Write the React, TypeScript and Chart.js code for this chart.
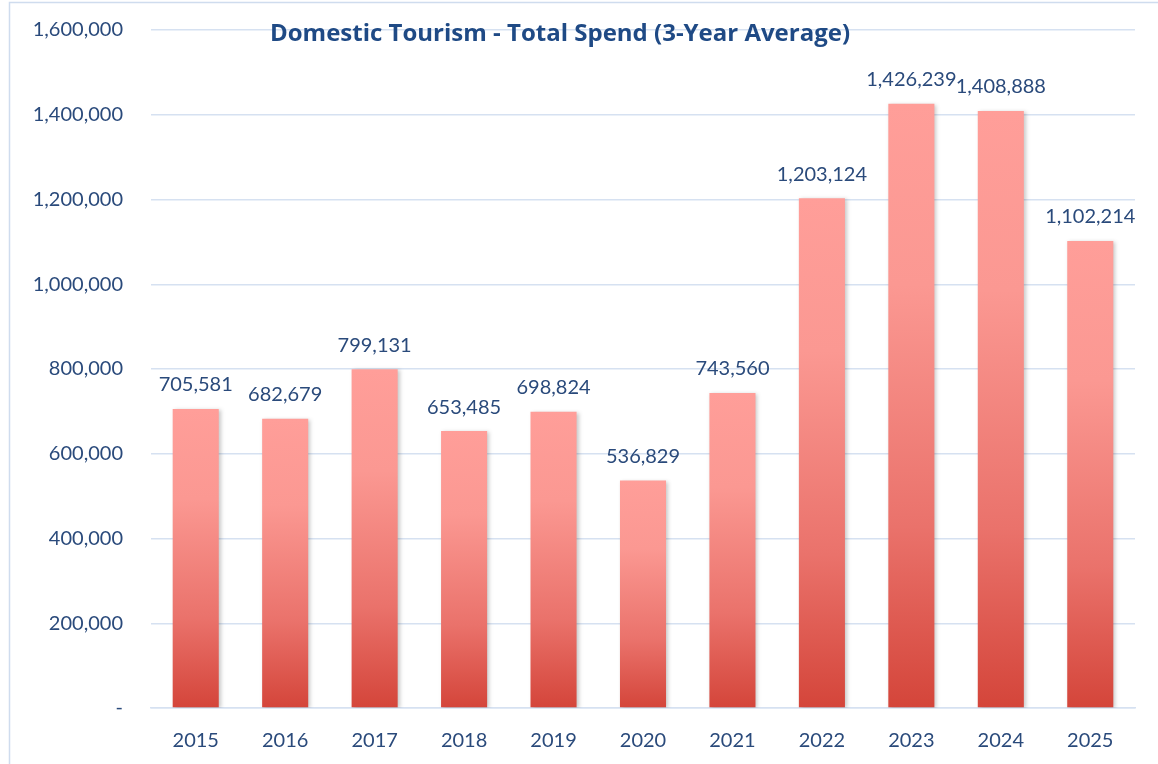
import React, { useEffect, useRef } from "react";
import { Chart, registerables } from "chart.js";

Chart.register(...registerables);

const years = ["2015", "2016", "2017", "2018", "2019", "2020", "2021", "2022", "2023", "2024", "2025"];
const spend = [705581, 682679, 799131, 653485, 698824, 536829, 743560, 1203124, 1426239, 1408888, 1102214];
const titleText = "Domestic Tourism - Total Spend (3-Year Average)";

const FONT = "Lato, 'Open Sans', sans-serif";
const TITLE_FONT = "'Open Sans', Lato, sans-serif";
const TEXT = "#2A4A7B";

export default function App() {
  const ref = useRef<HTMLCanvasElement | null>(null);

  useEffect(() => {
    const canvas = ref.current;
    if (!canvas) return;

    const fmt = (v: number) => v.toLocaleString("en-US");

    const bgPlugin = {
      id: "bgBorder",
      beforeDraw(chart: any) {
        const { ctx } = chart;
        ctx.save();
        ctx.fillStyle = "#ffffff";
        ctx.fillRect(0, 0, chart.width, chart.height);
        ctx.strokeStyle = "#CFDCEE";
        ctx.lineWidth = 1.5;
        ctx.strokeRect(9.5, 2.5, chart.width + 20, chart.height + 20);
        ctx.restore();
      },
    };

    const shadowPlugin = {
      id: "barShadow",
      beforeDatasetsDraw(chart: any) {
        const { ctx } = chart;
        ctx.save();
        ctx.shadowColor = "rgba(0,0,0,0.22)";
        ctx.shadowBlur = 4;
        ctx.shadowOffsetX = 2;
        ctx.shadowOffsetY = 1;
      },
      afterDatasetsDraw(chart: any) {
        chart.ctx.restore();
      },
    };

    const labelPlugin = {
      id: "valueLabels",
      afterDatasetsDraw(chart: any) {
        const { ctx } = chart;
        const meta = chart.getDatasetMeta(0);
        ctx.save();
        ctx.font = `20px ${FONT}`;
        ctx.fillStyle = TEXT;
        ctx.textAlign = "center";
        ctx.textBaseline = "middle";
        meta.data.forEach((bar: any, i: number) => {
          ctx.fillText(fmt(spend[i]), bar.x, bar.y - 24);
        });
        ctx.restore();
      },
    };

    const titlePlugin = {
      id: "innerTitle",
      afterDraw(chart: any) {
        const { ctx } = chart;
        ctx.save();
        ctx.font = `bold 24px ${TITLE_FONT}`;
        ctx.fillStyle = "#1F4A85";
        ctx.textAlign = "center";
        ctx.textBaseline = "middle";
        ctx.fillText(titleText, 560, 34);
        ctx.restore();
      },
    };

    const chart = new Chart(canvas, {
      type: "bar",
      data: {
        labels: years,
        datasets: [
          {
            data: spend,
            backgroundColor: (c: any) => {
              const ch = c.chart;
              const y = ch.scales?.y;
              if (!ch.chartArea || !y || c.raw == null) return "#F08A84";
              const top = y.getPixelForValue(c.raw as number);
              const bottom = y.getPixelForValue(0);
              if (!isFinite(top) || !isFinite(bottom) || top === bottom) return "#F08A84";
              const g = ch.ctx.createLinearGradient(0, top, 0, bottom);
              g.addColorStop(0, "#FF9E99");
              g.addColorStop(0.3, "#FB9892");
              g.addColorStop(0.7, "#EA726B");
              g.addColorStop(1, "#D4453A");
              return g;
            },
            borderWidth: 0,
            barPercentage: 0.515,
            categoryPercentage: 1,
          },
        ],
      },
      options: {
        animation: false,
        responsive: false,
        maintainAspectRatio: false,
        layout: { padding: { left: 10, right: 23, top: 30, bottom: 0 } },
        plugins: {
          legend: { display: false },
          title: { display: false },
          tooltip: { enabled: false },
        },
        scales: {
          x: {
            grid: { display: false, drawTicks: false },
            border: { display: true, color: "#D6E1F1", width: 1.5 },
            ticks: { color: TEXT, font: { family: FONT, size: 20 }, padding: 21 },
            afterFit: (s: any) => {
              s.height = 56;
              s.paddingLeft = 0;
              s.paddingRight = 0;
            },
          },
          y: {
            min: 0,
            max: 1600000,
            grid: { color: "#D6E1F1", lineWidth: 1.5, drawTicks: false },
            border: { display: false },
            ticks: {
              stepSize: 200000,
              color: TEXT,
              font: { family: FONT, size: 20 },
              padding: 28,
              callback: (v: any) => (Number(v) === 0 ? "-" : fmt(Number(v))),
            },
            afterFit: (s: any) => {
              s.width = 141;
              s.paddingTop = 0;
              s.paddingBottom = 0;
            },
          },
        },
      },
      plugins: [bgPlugin, shadowPlugin, labelPlugin, titlePlugin],
    });

    return () => chart.destroy();
  }, []);

  return (
    <div style={{ position: "fixed", left: 0, top: 0, width: 1158, height: 764, background: "#fff" }}>
      <canvas ref={ref} width={1158} height={764} style={{ display: "block", width: 1158, height: 764 }} />
    </div>
  );
}
